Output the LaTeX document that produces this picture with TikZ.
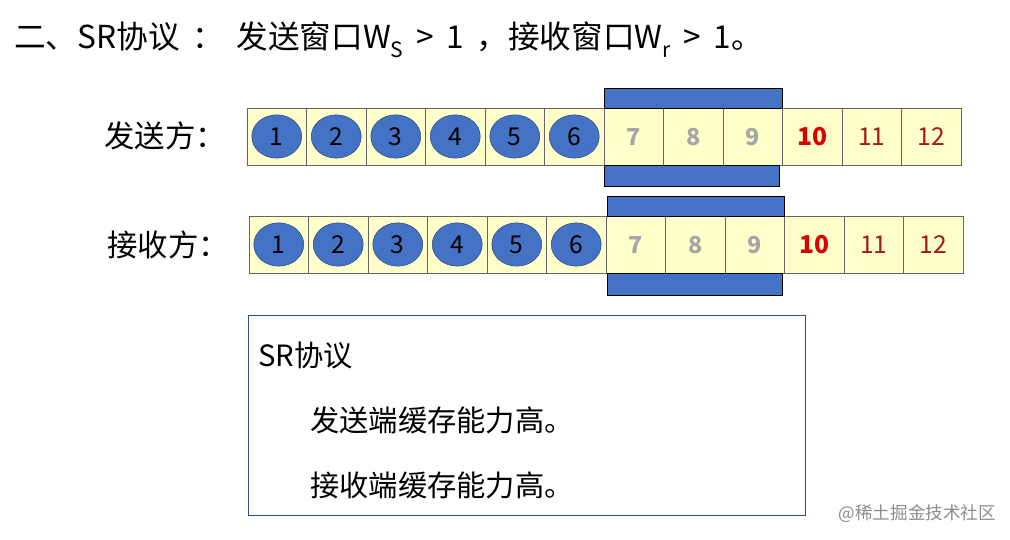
\documentclass[tikz,border=0pt]{standalone}
\usepackage{fontspec}
\setmainfont{Noto Sans CJK SC}
\usetikzlibrary{shapes.geometric}
\definecolor{cb}{RGB}{68,114,196}
\definecolor{cy}{RGB}{255,255,204}
\begin{document}
\begin{tikzpicture}[x=0.03cm,y=-0.03cm,
 cell/.style={draw=black!60,fill=cy,line width=0.5pt},
 bar/.style={draw=black,fill=cb,line width=0.4pt},
 ball/.style={ellipse,draw=cb!60!black,fill=cb,minimum width=1.5cm,minimum height=1.3cm,inner sep=0pt,font=\fontsize{21}{21}\selectfont},
 gnum/.style={text=black!35,font=\fontsize{20}{20}\selectfont\bfseries},
 rnum/.style={text=red!60!black!90,font=\fontsize{21}{21}\selectfont},
 big/.style={font=\fontsize{26}{26}\selectfont}]
\useasboundingbox (0,0) rectangle (1010,540);
\node[font=\fontsize{27}{27}\selectfont,anchor=west,inner sep=0] (title) at (14,40) {二、SR协议\hspace{0.4em}：\hspace{0.4em}发送窗口W\raisebox{-0.3em}{\fontsize{18}{18}\selectfont S}\hspace{0.4em}>\hspace{0.4em}1\hspace{0.4em}，接收窗口W\raisebox{-0.3em}{\fontsize{18}{18}\selectfont r}\hspace{0.4em}>\hspace{0.4em}1。};
\node[big] (ls) at (165,136) {发送方：};
\node[big] (lr) at (168,245) {接收方：};
\foreach \r/\y/\x in {s/108/247,r/216/249}{
 \foreach \i in {1,...,12}{
  \pgfmathsetmacro\a{\x+(\i-1)*59.5}
  \draw[cell] (\a,\y) rectangle ++(59.5,57);
  \coordinate (\r c\i) at (\a+29.75,\y+28.5);
 }
 \foreach \i in {1,...,6}{ \node[ball] (\r b\i) at (\r c\i) {\i}; }
 \foreach \i in {7,8,9}{ \node[gnum] (\r n\i) at (\r c\i) {\i}; }
 \node[rnum,font=\fontsize{21}{21}\selectfont\bfseries,text=red!85!black] (\r n10) at (\r c10) {10};
 \node[rnum] (\r n11) at (\r c11) {11};
 \node[rnum] (\r n12) at (\r c12) {12};
}
\draw[bar] (604,88) rectangle (782,108);
\draw[bar] (604,165) rectangle (779,186);
\draw[bar] (607,196) rectangle (784,216);
\draw[bar] (607,273) rectangle (782,295);
\draw[draw=cb!70!black,line width=0.6pt] (248,315) rectangle (805,515);
\node[anchor=west,font=\fontsize{25}{25}\selectfont] (b0) at (254,355) {SR协议};
\node[anchor=west,font=\fontsize{25}{25}\selectfont] (b1) at (306,420) {发送端缓存能力高。};
\node[anchor=west,font=\fontsize{25}{25}\selectfont] (b2) at (306,485) {接收端缓存能力高。};
\node[anchor=east,text=black!45,font=\fontsize{15}{15}\selectfont] (wm) at (1000,514) {@稀土掘金技术社区};
\end{tikzpicture}
\end{document}
